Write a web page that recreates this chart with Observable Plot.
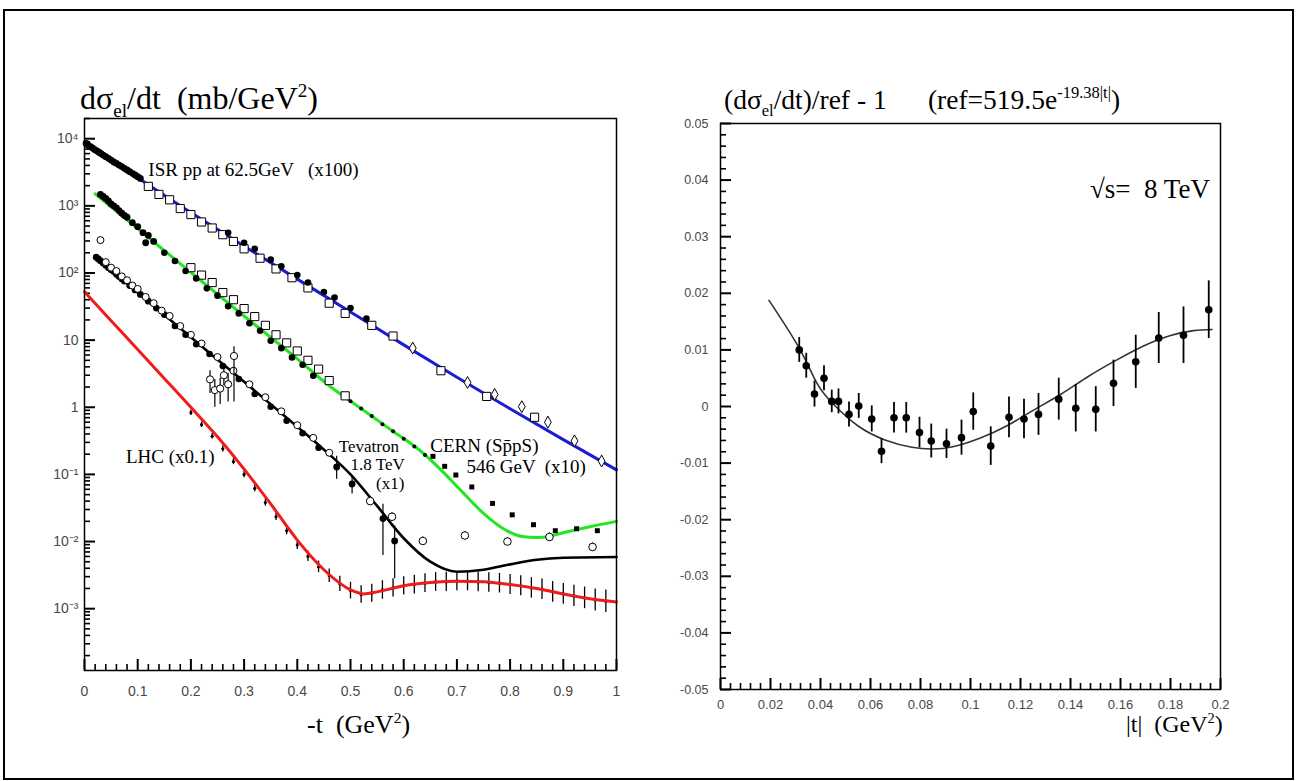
<!DOCTYPE html>
<html><head><meta charset="utf-8">
<script src="https://cdn.jsdelivr.net/npm/d3@7"></script>
<script src="https://cdn.jsdelivr.net/npm/@observablehq/plot@0.6"></script>
<style>
html,body{margin:0;padding:0;background:#fff;}
#wrap{position:relative;width:1297px;height:781px;overflow:hidden;background:#fff;}
#border{position:absolute;left:3px;top:9px;width:1287px;height:767px;border:2px solid #000;}
.t{position:absolute;white-space:pre;font-family:"Liberation Serif","Times New Roman",serif;color:#000;line-height:1;}
.t sub{font-size:0.6em;vertical-align:-0.4em;line-height:0;}
.t sup{font-size:0.6em;vertical-align:0.65em;line-height:0;}
svg{position:absolute;top:0;}
</style></head>
<body><div id="wrap"><div id="border"></div></div>
<script>
// ---------------- LEFT PANEL DATA (dσ/dt, mb/GeV², vs -t GeV²) ----------------
// fitted curves
const isrFitT = [0, 0.1, 0.2, 0.3, 0.4, 0.5, 0.6, 0.7, 0.8, 0.9, 1.0];
const isrFitV = [8900, 2630, 794, 251, 81, 26.3, 8.5, 2.8, 0.95, 0.33, 0.117];
const spsFitT = [0.02, 0.1, 0.2, 0.3, 0.4, 0.46, 0.52, 0.58, 0.63, 0.67, 0.71, 0.75, 0.79, 0.82, 0.85, 0.875, 0.9, 0.95, 1.0];
const spsFitV = [1514, 457, 102, 22.9, 5.25, 2.09, 0.955, 0.437, 0.229, 0.117, 0.055, 0.0263, 0.0151, 0.0120, 0.0115, 0.0120, 0.0135, 0.0166, 0.0200];
const tevFitT = [0.02, 0.1, 0.2, 0.3, 0.4, 0.45, 0.5, 0.55, 0.6, 0.65, 0.7, 0.75, 0.8, 0.85, 0.9, 1.0];
const tevFitV = [178, 51.3, 11.0, 2.40, 0.513, 0.234, 0.100, 0.0339, 0.0112, 0.00501, 0.00355, 0.0038, 0.00457, 0.00537, 0.00575, 0.00589];
const lhcFitT = [0, 0.05, 0.1, 0.15, 0.2, 0.25, 0.3, 0.35, 0.4, 0.45, 0.5, 0.525, 0.55, 0.6, 0.65, 0.7, 0.75, 0.8, 0.85, 0.9, 0.95, 1.0];
const lhcFitV = [52.5, 19.5, 7.24, 2.69, 1.0, 0.363, 0.120, 0.0363, 0.0105, 0.0038, 0.00191, 0.00166, 0.00178, 0.00219, 0.00245, 0.00257, 0.00251, 0.00229, 0.00200, 0.00166, 0.00141, 0.00126];

// ISR 62.5 GeV data (x100)
const isrBandT = [0.003, 0.007, 0.011, 0.015, 0.019, 0.023, 0.027, 0.031, 0.035, 0.040, 0.045, 0.050, 0.055, 0.060, 0.065, 0.070, 0.075, 0.080, 0.085, 0.090, 0.095, 0.100, 0.105];
const isrBandV = [8500, 8000, 7600, 7300, 6900, 6600, 6300, 6000, 5700, 5400, 5100, 4800, 4500, 4300, 4050, 3850, 3620, 3420, 3230, 3050, 2880, 2720, 2560];
const isrSqT = [0.12, 0.14, 0.16, 0.18, 0.20, 0.22, 0.24, 0.26, 0.28, 0.30, 0.33, 0.36, 0.39, 0.42, 0.46, 0.49, 0.54, 0.58, 0.67, 0.756, 0.846];
const isrSqV = [1950, 1480, 1230, 912, 741, 575, 468, 372, 295, 229, 166, 115, 85, 60, 35.5, 25, 16.6, 11.5, 3.5, 1.45, 0.71];
const isrDotT = [0.27, 0.30, 0.32, 0.35, 0.37, 0.40, 0.42, 0.45, 0.47, 0.50, 0.53];
const isrDotV = [398, 282, 229, 158, 126, 93, 72, 52, 43, 30, 21];
const isrDiaT = [0.617, 0.72, 0.771, 0.822, 0.871, 0.921, 0.972];
const isrDiaV = [7.6, 2.34, 1.55, 1.02, 0.60, 0.316, 0.158];
const isrDiaE = [0.15, 0.15, 0.18, 0.18, 0.2, 0.2, 0.22];

// CERN SppS 546 GeV data (x10)
const spsBandT = [0.03, 0.035, 0.04, 0.045, 0.05, 0.055, 0.06, 0.065, 0.07, 0.075, 0.08, 0.09, 0.10, 0.11, 0.115, 0.12, 0.13];
const spsBandV = [1480, 1380, 1290, 1180, 1070, 1000, 933, 850, 776, 720, 676, 562, 490, 398, 282, 363, 295];
const spsSqT = [0.20, 0.22, 0.24, 0.26, 0.28, 0.30, 0.32, 0.34, 0.36, 0.38, 0.40, 0.42, 0.44, 0.46, 0.49];
const spsSqV = [120, 93, 72, 51, 40, 29.5, 22.4, 16.6, 12, 9.1, 6.9, 5.0, 3.7, 2.5, 1.48];
const spsDotT = [0.15, 0.17, 0.19, 0.21, 0.23, 0.25, 0.27, 0.29, 0.31, 0.33, 0.35, 0.37, 0.39, 0.41, 0.43];
const spsDotV = [200, 151, 107, 83, 59, 46, 32, 25, 17.8, 13.8, 9.8, 7.6, 5.5, 4.3, 2.95];
const spsSmallT = [0.50, 0.52, 0.54, 0.56, 0.58, 0.60, 0.62, 0.64];
const spsSmallV = [1.23, 0.955, 0.74, 0.56, 0.44, 0.34, 0.26, 0.195];
const spsFsqT = [0.655, 0.677, 0.698, 0.728, 0.767, 0.804, 0.844, 0.885, 0.925, 0.964];
const spsFsqV = [0.186, 0.132, 0.098, 0.065, 0.037, 0.025, 0.0178, 0.0145, 0.0155, 0.0145];

// Tevatron 1.8 TeV data (x1)
const tevBandT = [0.022, 0.026, 0.03, 0.035, 0.04, 0.045, 0.05, 0.055, 0.06, 0.065, 0.07, 0.075, 0.085, 0.095, 0.105, 0.12, 0.135, 0.15];
const tevBandV = [172, 162, 152, 141, 130, 120, 112, 105, 96, 89, 82, 76, 65, 56, 48, 38, 30, 24];
const tevOpenT = [0.03, 0.04, 0.05, 0.06, 0.07, 0.08, 0.09, 0.10, 0.115, 0.13, 0.145, 0.16, 0.18, 0.20, 0.22, 0.25, 0.28, 0.31, 0.34, 0.37, 0.40, 0.43, 0.46];
const tevOpenV = [309, 145, 120, 107, 89, 78, 65, 58, 44, 35.5, 27.5, 22.9, 16.2, 12, 8.9, 5.6, 3.5, 2.2, 1.41, 0.87, 0.54, 0.35, 0.21];
const tevDotT = [0.17, 0.19, 0.21, 0.235, 0.26, 0.29, 0.32, 0.35, 0.38, 0.41, 0.44];
const tevDotV = [16.2, 12, 8.7, 6.2, 4.1, 2.63, 1.58, 1.02, 0.63, 0.41, 0.25];
const tevClusterT = [0.236, 0.245, 0.255, 0.262, 0.27, 0.281];
const tevClusterV = [2.6, 1.8, 1.9, 3.0, 2.2, 5.8];
const tevClusterLo = [1.6, 1.0, 1.1, 2.1, 1.2, 1.2];
const tevClusterHi = [3.5, 2.6, 2.7, 4.0, 3.2, 8.0];
const tevErrT = [0.474, 0.503, 0.561, 0.583];
const tevErrV = [0.129, 0.072, 0.022, 0.0102];
const tevErrLo = [0.085, 0.051, 0.0062, 0.0028];
const tevErrHi = [0.186, 0.093, 0.036, 0.017];
const openHiT = [0.537, 0.578, 0.636, 0.715, 0.795, 0.874, 0.955];
const openHiV = [0.040, 0.0234, 0.0102, 0.0123, 0.0100, 0.0117, 0.0083];
const openHiE = [0.15, 0.15, 0.15, 0.15, 0.15, 0.15, 0.15];

// LHC 8 TeV data (x0.1)
const lhcT = [0.20,0.22,0.24,0.26,0.28,0.30,0.32,0.34,0.36,0.38,0.40,0.42,0.44,0.46,0.48,0.50,0.52,0.54,0.56,0.58,0.60,0.62,0.64,0.66,0.68,0.70,0.72,0.74,0.76,0.78,0.80,0.82,0.84,0.86,0.88,0.90,0.92,0.94,0.96,0.98];
const lhcV = [0.83,0.55,0.37,0.24,0.155,0.1,0.062,0.038,0.0234,0.0145,0.0089,0.0060,0.0042,0.0031,0.00234,0.00186,0.00162,0.0017,0.0019,0.00204,0.00219,0.00229,0.0024,0.0025,0.0025,0.00257,0.00257,0.0025,0.00245,0.0024,0.00229,0.00219,0.00204,0.00195,0.00178,0.00166,0.00155,0.00145,0.00135,0.00129];
const lhcE = [0.10,0.10,0.10,0.11,0.11,0.12,0.12,0.13,0.14,0.15,0.17,0.19,0.22,0.26,0.30,0.33,0.35,0.36,0.37,0.37,0.37,0.38,0.38,0.38,0.39,0.39,0.39,0.40,0.40,0.40,0.41,0.41,0.42,0.42,0.43,0.43,0.44,0.45,0.46,0.47];

// in-plot labels (anchored in data units)
const annoText = ["ISR pp at 62.5GeV   (x100)", "LHC (x0.1)", "Tevatron", "1.8 TeV", "(x1)", "CERN (Sp\u0304pS)", "546 GeV  (x10)"];
const annoT = [0.120, 0.078, 0.478, 0.500, 0.548, 0.650, 0.718];
const annoV = [3390, 0.180, 0.262, 0.140, 0.0735, 0.262, 0.129];
const annoSize = [19, 19, 17, 17, 17, 19, 19];

// axis ticks
const leftYTicks = [1e-3, 1e-2, 1e-1, 1, 10, 100, 1e3, 1e4];
const leftYLabels = ["10\u207B\u00B3", "10\u207B\u00B2", "10\u207B\u00B9", "1", "10", "10\u00B2", "10\u00B3", "10\u2074"];
const leftXTicks = [0, 0.1, 0.2, 0.3, 0.4, 0.5, 0.6, 0.7, 0.8, 0.9, 1];
const leftXLabels = ["0", "0.1", "0.2", "0.3", "0.4", "0.5", "0.6", "0.7", "0.8", "0.9", "1"];

// ---------------- RIGHT PANEL DATA ((dσ/dt)/ref - 1 vs |t|) ----------------
const ratioT = [0.0315,0.0343,0.0376,0.0414,0.0445,0.0472,0.0514,0.0553,0.0605,0.0644,0.0694,0.0743,0.0796,0.0843,0.0904,0.0964,0.1011,0.1081,0.1154,0.1214,0.1272,0.1353,0.1421,0.1501,0.1572,0.1661,0.1753,0.1852,0.1953];
const ratioV = [0.0100,0.0072,0.0022,0.0050,0.0009,0.0009,-0.0014,0.0001,-0.0022,-0.0079,-0.0020,-0.0020,-0.0046,-0.0061,-0.0066,-0.0055,-0.0009,-0.0070,-0.0019,-0.0022,-0.0014,0.0013,-0.0003,-0.0005,0.0041,0.0079,0.0121,0.0126,0.0171];
const ratioE = [0.0022,0.0022,0.0023,0.0022,0.0020,0.0022,0.0022,0.0022,0.0023,0.0022,0.0027,0.0027,0.0027,0.0030,0.0026,0.0031,0.0033,0.0034,0.0036,0.0035,0.0037,0.0037,0.0042,0.0040,0.0041,0.0047,0.0045,0.0050,0.0051];
const ratioFitT = [0.0194,0.0315,0.0386,0.0454,0.0549,0.0658,0.0766,0.0847,0.0929,0.1037,0.1146,0.1254,0.1363,0.1471,0.158,0.1688,0.1797,0.1892,0.1966];
const ratioFitV = [0.01875,0.0103,0.0041,0.0003,-0.0034,-0.0059,-0.0072,-0.0075,-0.0071,-0.0056,-0.0034,-0.0006,0.0022,0.0053,0.0081,0.0106,0.0125,0.0134,0.0136];
const rightYTicks = [-0.05, -0.04, -0.03, -0.02, -0.01, 0, 0.01, 0.02, 0.03, 0.04, 0.05];
const rightYLabels = ["-0.05", "-0.04", "-0.03", "-0.02", "-0.01", "0", "0.01", "0.02", "0.03", "0.04", "0.05"];
const rightXTicks = [0, 0.02, 0.04, 0.06, 0.08, 0.1, 0.12, 0.14, 0.16, 0.18, 0.2];
const rightXLabels = ["0", "0.02", "0.04", "0.06", "0.08", "0.1", "0.12", "0.14", "0.16", "0.18", "0.2"];

// ---------------- helpers ----------------
const P = (ts, vs) => ts.map((t, i) => ({t, v: vs[i]}));
const PR = (ts, vs, es) => ts.map((t, i) => ({t, v: vs[i], lo: vs[i] / (1 + es[i]), hi: vs[i] * (1 + es[i])}));
const PB = (ts, vs, lo, hi) => ts.map((t, i) => ({t, v: vs[i], lo: lo[i], hi: hi[i]}));
const lab = (ticks, labels) => d => labels[ticks.findIndex(x => Math.abs(x - d) < 1e-9 * Math.max(1, Math.abs(d)))] ?? "";

const LX = [0, 1], LY = [1.2e-4, 2e4], RX = [0, 0.2], RY = [-0.05, 0.05];
const logMinor = [];
for (let e = -4; e <= 4; e++) for (let k = 2; k <= 9; k++) { const v = k * 10 ** e; if (v >= LY[0] && v <= LY[1]) logMinor.push(v); }
const leftXMinor = d3.range(0, 1.0001, 0.02).filter(v => Math.abs(v * 10 - Math.round(v * 10)) > 1e-6);
const rightXMinor = d3.range(0, 0.2001, 0.004).filter(v => Math.abs(v * 50 - Math.round(v * 50)) > 1e-6);
const rightYMinor = d3.range(-0.05, 0.0501, 0.002).filter(v => Math.abs(v * 100 - Math.round(v * 100)) > 1e-6);

const BLUE = "#1c1cd6", GREEN = "#22e622", RED = "#ee1c1c";
const tickFont = {fontFamily: "Liberation Sans, Arial, sans-serif", fontSize: 14, fill: "#484848"};
const MAJ = {stroke: "#000", strokeWidth: 2, strokeLinecap: "butt"};
const MIN = {stroke: "#000", strokeWidth: 1.6, strokeLinecap: "butt"};

// ---------------- LEFT PLOT ----------------
const LW = 650, LH = 781, LML = 84, LMR = 34, LMT = 118, LMB = 111;
const lpw = LW - LML - LMR, lph = LH - LMT - LMB;
// tick lengths converted from pixels to data units along each scale
const lxLen = px => LX[0] + (LX[1] - LX[0]) * px / lpw;
const lyLen = px => LY[0] * Math.pow(LY[1] / LY[0], px / lph);
const left = Plot.plot({
  width: LW, height: LH,
  marginLeft: LML, marginRight: LMR, marginTop: LMT, marginBottom: LMB,
  x: {domain: LX},
  y: {type: "log", domain: LY},
  style: {background: "transparent", overflow: "visible"},
  marks: [
    // inward ticks
    Plot.ruleY(leftYTicks, {y: d => d, x1: LX[0], x2: lxLen(11), ...MAJ}),
    Plot.ruleY(logMinor, {y: d => d, x1: LX[0], x2: lxLen(6), ...MIN}),
    Plot.ruleX(leftXTicks, {x: d => d, y1: LY[0], y2: lyLen(11), ...MAJ}),
    Plot.ruleX(leftXMinor, {x: d => d, y1: LY[0], y2: lyLen(6), ...MIN}),
    // tick labels
    Plot.axisY(leftYTicks, {anchor: "left", tickSize: 0, tickPadding: 6, tickFormat: lab(leftYTicks, leftYLabels), label: null, ...tickFont}),
    Plot.axisX(leftXTicks, {anchor: "bottom", tickSize: 0, tickPadding: 16, tickFormat: lab(leftXTicks, leftXLabels), label: null, ...tickFont}),
    // curves
    Plot.line(P(isrFitT, isrFitV), {x: "t", y: "v", stroke: BLUE, strokeWidth: 3, curve: "monotone-x"}),
    Plot.line(P(spsFitT, spsFitV), {x: "t", y: "v", stroke: GREEN, strokeWidth: 3, curve: "monotone-x"}),
    Plot.line(P(tevFitT, tevFitV), {x: "t", y: "v", stroke: "#000", strokeWidth: 2.6, curve: "monotone-x"}),
    // LHC data with bars
    Plot.ruleX(PR(lhcT, lhcV, lhcE), {x: "t", y1: "lo", y2: "hi", stroke: "#000", strokeWidth: 1.3}),
    Plot.dot(P(lhcT, lhcV), {x: "t", y: "v", r: 1.6, fill: "#000"}),
    Plot.line(P(lhcFitT, lhcFitV), {x: "t", y: "v", stroke: RED, strokeWidth: 3, curve: "monotone-x"}),
    // ISR points
    Plot.dot(P(isrBandT, isrBandV), {x: "t", y: "v", r: 3.4, fill: "#000"}),
    Plot.dot(P(isrSqT, isrSqV), {x: "t", y: "v", symbol: "square", r: 4.6, fill: "#fff", stroke: "#000", strokeWidth: 1}),
    Plot.dot(P(isrDotT, isrDotV), {x: "t", y: "v", r: 3.3, fill: "#000"}),
    Plot.ruleX(PR(isrDiaT, isrDiaV, isrDiaE), {x: "t", y1: "lo", y2: "hi", stroke: "#000", strokeWidth: 1}),
    Plot.dot(P(isrDiaT, isrDiaV), {x: "t", y: "v", symbol: "diamond", r: 3.6, fill: "#fff", stroke: "#000", strokeWidth: 1}),
    // SppS points
    Plot.dot(P(spsBandT, spsBandV), {x: "t", y: "v", r: 3.4, fill: "#000"}),
    Plot.dot(P(spsSqT, spsSqV), {x: "t", y: "v", symbol: "square", r: 4.6, fill: "#fff", stroke: "#000", strokeWidth: 1}),
    Plot.dot(P(spsDotT, spsDotV), {x: "t", y: "v", r: 3.3, fill: "#000"}),
    Plot.dot(P(spsSmallT, spsSmallV), {x: "t", y: "v", r: 2, fill: "#000"}),
    Plot.dot(P(spsFsqT, spsFsqV), {x: "t", y: "v", symbol: "square", r: 2.8, fill: "#000"}),
    // Tevatron points
    Plot.dot(P(tevBandT, tevBandV), {x: "t", y: "v", r: 3.4, fill: "#000"}),
    Plot.dot(P(tevOpenT, tevOpenV), {x: "t", y: "v", r: 3.5, fill: "#fff", stroke: "#000", strokeWidth: 1}),
    Plot.dot(P(tevDotT, tevDotV), {x: "t", y: "v", r: 3.3, fill: "#000"}),
    Plot.ruleX(PB(tevClusterT, tevClusterV, tevClusterLo, tevClusterHi), {x: "t", y1: "lo", y2: "hi", stroke: "#000", strokeWidth: 1.2}),
    Plot.dot(P(tevClusterT, tevClusterV), {x: "t", y: "v", r: 3.6, fill: "#fff", stroke: "#000", strokeWidth: 1}),
    Plot.ruleX(PB(tevErrT, tevErrV, tevErrLo, tevErrHi), {x: "t", y1: "lo", y2: "hi", stroke: "#000", strokeWidth: 1.2}),
    Plot.dot(P(tevErrT, tevErrV), {x: "t", y: "v", r: 3.4, fill: "#000"}),
    Plot.ruleX(PR(openHiT, openHiV, openHiE), {x: "t", y1: "lo", y2: "hi", stroke: "#000", strokeWidth: 1}),
    Plot.dot(P(openHiT, openHiV), {x: "t", y: "v", r: 3.8, fill: "#fff", stroke: "#000", strokeWidth: 1}),
    // labels
    Plot.text(annoText.map((s, i) => ({s, t: annoT[i], v: annoV[i], f: annoSize[i]})), {x: "t", y: "v", text: "s", fontSize: d => d.f, textAnchor: "start", fontFamily: "Liberation Serif, Times New Roman, serif", fill: "#000"}),
    Plot.frame({stroke: "#000", strokeWidth: 1.5})
  ]
});
left.style.left = "0px";

// ---------------- RIGHT PLOT ----------------
const RW = 647, RH = 781, RML = 70, RMR = 77, RMT = 123, RMB = 92;
const rpw = RW - RML - RMR, rph = RH - RMT - RMB;
const rxLen = px => RX[0] + (RX[1] - RX[0]) * px / rpw;
const ryLen = px => RY[0] + (RY[1] - RY[0]) * px / rph;
const right = Plot.plot({
  width: RW, height: RH,
  marginLeft: RML, marginRight: RMR, marginTop: RMT, marginBottom: RMB,
  x: {domain: RX},
  y: {domain: RY},
  style: {background: "transparent", overflow: "visible"},
  marks: [
    Plot.ruleY(rightYTicks, {y: d => d, x1: RX[0], x2: rxLen(11), ...MAJ}),
    Plot.ruleY(rightYMinor, {y: d => d, x1: RX[0], x2: rxLen(6), ...MIN}),
    Plot.ruleX(rightXTicks, {x: d => d, y1: RY[0], y2: ryLen(11), ...MAJ}),
    Plot.ruleX(rightXMinor, {x: d => d, y1: RY[0], y2: ryLen(6), ...MIN}),
    Plot.axisY(rightYTicks, {anchor: "left", tickSize: 0, tickPadding: 12, tickFormat: lab(rightYTicks, rightYLabels), label: null, ...tickFont, fontSize: 12.5}),
    Plot.axisX(rightXTicks, {anchor: "bottom", tickSize: 0, tickPadding: 10, tickFormat: lab(rightXTicks, rightXLabels), label: null, ...tickFont, fontSize: 13}),
    Plot.line(P(ratioFitT, ratioFitV), {x: "t", y: "v", stroke: "#333", strokeWidth: 1.6, curve: "natural"}),
    Plot.ruleX(ratioT.map((t, i) => ({t, lo: ratioV[i] - ratioE[i], hi: ratioV[i] + ratioE[i]})), {x: "t", y1: "lo", y2: "hi", stroke: "#000", strokeWidth: 1.8}),
    Plot.dot(P(ratioT, ratioV), {x: "t", y: "v", r: 3.8, fill: "#000"}),
    Plot.frame({stroke: "#000", strokeWidth: 1.5})
  ]
});
right.style.left = "650px";

const wrap = document.getElementById("wrap");
wrap.appendChild(left);
wrap.appendChild(right);

// titles / axis titles (HTML text)
const labels = [
  {html: "d\u03C3<sub>el</sub>/dt  (mb/GeV<sup>2</sup>)", left: 80, top: 82, size: 32},
  {html: "(d\u03C3<sub>el</sub>/dt)/ref - 1      (ref=519.5e<sup>-19.38|t|</sup>)", left: 724, top: 86, size: 27.5},
  {html: "\u221As=  8 TeV", left: 1090, top: 176, size: 27},
  {html: "-t  (GeV<sup>2</sup>)", left: 307, top: 712, size: 26},
  {html: "|t|  (GeV<sup>2</sup>)", left: 1126, top: 712, size: 24}
];
for (const l of labels) {
  const d = document.createElement("div");
  d.className = "t";
  d.innerHTML = l.html;
  d.style.left = l.left + "px"; d.style.top = l.top + "px"; d.style.fontSize = l.size + "px";
  wrap.appendChild(d);
}
</script></body></html>
